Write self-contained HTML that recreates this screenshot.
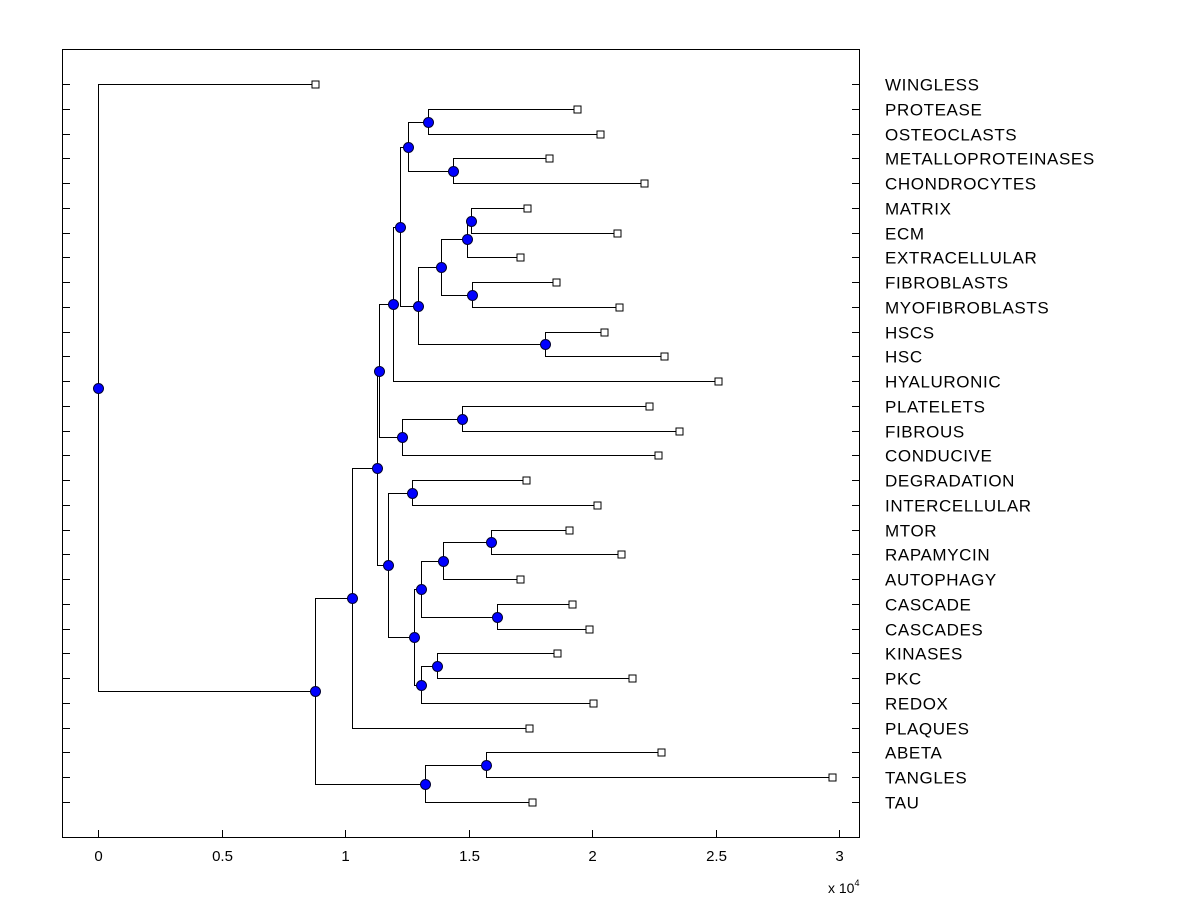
<!DOCTYPE html>
<html><head><meta charset="utf-8"><style>
body{margin:0;background:#fff}
svg{display:block;font-family:"Liberation Sans",Arial,sans-serif}
</style></head><body>
<svg id="chart" width="1200" height="900" xmlns="http://www.w3.org/2000/svg">
<rect x="62.5" y="49.5" width="797" height="788" fill="#fff" stroke="#000" stroke-width="1"/>
<g id="ticks"></g><g id="links"></g><g id="marks"></g><g id="labels"></g>
<text x="828" y="893" font-size="14">x 10<tspan dy="-7" font-size="9">4</tspan></text>
</svg>
<script>
const leaves=["WINGLESS","PROTEASE","OSTEOCLASTS","METALLOPROTEINASES","CHONDROCYTES","MATRIX","ECM","EXTRACELLULAR","FIBROBLASTS","MYOFIBROBLASTS","HSCS","HSC","HYALURONIC","PLATELETS","FIBROUS","CONDUCIVE","DEGRADATION","INTERCELLULAR","MTOR","RAPAMYCIN","AUTOPHAGY","CASCADE","CASCADES","KINASES","PKC","REDOX","PLAQUES","ABETA","TANGLES","TAU"];
const leafValues=[0.879,1.939,2.032,1.826,2.211,1.737,2.101,1.709,1.854,2.109,2.049,2.291,2.510,2.231,2.352,2.267,1.733,2.020,1.907,2.117,1.709,1.919,1.988,1.858,2.162,2.004,1.745,2.279,2.972,1.757];
const mergeA=[1,3,30,5,33,8,34,10,36,32,39,13,41,40,16,18,45,21,46,23,49,48,44,43,53,27,55,54,0];
const mergeB=[2,4,31,6,7,9,35,11,37,38,12,14,15,42,17,19,20,22,47,24,25,50,51,52,26,28,29,56,57];
const mergeH=[1.336,1.437,1.255,1.510,1.494,1.514,1.389,1.810,1.296,1.223,1.194,1.474,1.231,1.138,1.271,1.591,1.397,1.615,1.308,1.372,1.308,1.279,1.174,1.130,1.028,1.571,1.324,0.879,0];
const xTicks=[0,0.5,1,1.5,2,2.5,3];

const NS="http://www.w3.org/2000/svg";
const xS=v=>Math.round(98+v*247)+0.5;
const yS=i=>Math.round(84+i*(802-84)/(leaves.length-1))+0.5;
function mk(tag,attrs,parent){const e=document.createElementNS(NS,tag);for(const k in attrs)e.setAttribute(k,attrs[k]);document.getElementById(parent).appendChild(e);return e;}
const nx=[],ny=[];
leaves.forEach((n,i)=>{nx.push(xS(leafValues[i]));ny.push(yS(i));});
mergeH.forEach((h,k)=>{const a=mergeA[k],b=mergeB[k];nx.push(xS(h));ny.push(Math.floor((ny[a]+ny[b])/2)+0.5);});
mergeH.forEach((h,k)=>{
  const id=leaves.length+k,a=mergeA[k],b=mergeB[k],px=nx[id];
  const p=mk('path',{d:`M${nx[a]},${ny[a]}H${px}V${ny[b]}H${nx[b]}`,fill:'none',stroke:'#000','stroke-width':1},'links');
  
  
});
leaves.forEach((n,i)=>{
  const r=mk('rect',{x:nx[i]-3.5,y:ny[i]-3.5,width:7,height:7,fill:'#fff',stroke:'#000','stroke-width':1},'marks');
  
  
  const t=mk('text',{x:885,y:ny[i]+6,'font-size':17,'letter-spacing':0.6},'labels');t.textContent=n;
  
  
  const l=mk('path',{d:`M62,${ny[i]}h8M860,${ny[i]}h-8`,stroke:'#000','stroke-width':1},'ticks');
  
  
});
mergeH.forEach((h,k)=>{
  const id=leaves.length+k;
  const c=mk('circle',{cx:nx[id],cy:ny[id],r:5,fill:'#0000ff',stroke:'#000033','stroke-width':1},'marks');
  
  
});
xTicks.forEach(v=>{
  const x=xS(v);
  const l=mk('path',{d:`M${x},838v-8`,stroke:'#000','stroke-width':1},'ticks');
  
  
  const t=mk('text',{x:x,y:861,'font-size':15,'text-anchor':'middle'},'labels');t.textContent=String(v);
  
  
});
</script>
</body></html>
